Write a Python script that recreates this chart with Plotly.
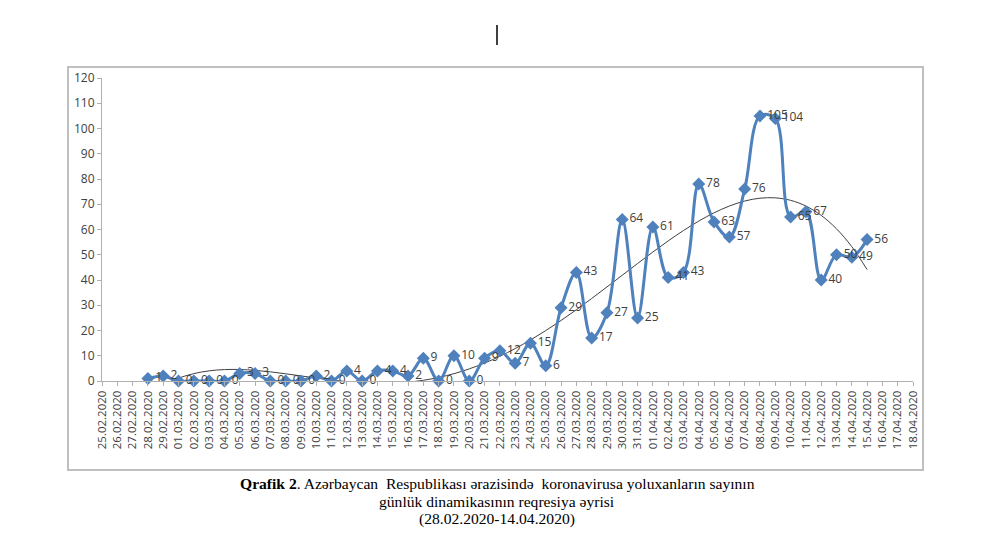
import numpy as np
import plotly.graph_objects as go

# category labels on the x axis
dates = ["25.02.2020", "26.02.2020", "27.02.2020", "28.02.2020", "29.02.2020"] + \
        [f"{d:02d}.03.2020" for d in range(1, 32)] + \
        [f"{d:02d}.04.2020" for d in range(1, 19)]

# daily new cases 28.02.2020 .. 15.04.2020
cases = [1, 2, 0, 0, 0, 0, 3, 3, 0, 0, 0, 2, 0, 4, 0, 4, 4, 2, 9, 0, 10, 0,
         9, 12, 7, 15, 6, 29, 43, 17, 27, 64, 25, 61, 41, 43, 78, 63, 57, 76,
         105, 104, 65, 67, 40, 50, 49, 56]
first_date = "28.02.2020"
trend_order = 4

start = dates.index(first_date)
x_cat = dates[start:start + len(cases)]

# polynomial regression trend line of the series (as in the spreadsheet chart)
idx = np.arange(len(cases))
poly = np.polynomial.Polynomial.fit(idx, cases, trend_order)
trend = poly(idx)

BLUE = "#4F81BD"
GRAY = "#404040"

fig = go.Figure()
fig.add_trace(go.Scatter(
    x=x_cat, y=trend, mode="lines", line=dict(color=GRAY, width=1, shape="spline"),
    hoverinfo="skip", showlegend=False))
fig.add_trace(go.Scatter(
    x=x_cat, y=cases, mode="lines+markers+text",
    line=dict(color=BLUE, width=3, shape="spline"),
    marker=dict(symbol="diamond", size=10, color=BLUE),
    text=[str(v) for v in cases], textposition="middle right",
    textfont=dict(family="Open Sans", size=12, color=GRAY),
    cliponaxis=False, showlegend=False))

fig.update_xaxes(
    type="category", categoryorder="array", categoryarray=dates,
    tickmode="array", tickvals=dates, ticktext=dates,
    range=[0, len(dates) - 1], tickangle=-90,
    showline=True, linecolor="#B0B0B0", linewidth=1,
    ticks="outside", ticklen=4, tickcolor="#B0B0B0",
    showgrid=False, zeroline=False,
    tickfont=dict(family="Open Sans", size=11.5, color=GRAY))
fig.update_yaxes(
    range=[0, 120], tickmode="linear", dtick=10, tick0=0,
    showline=True, linecolor="#B0B0B0", linewidth=1,
    ticks="outside", ticklen=4, tickcolor="#B0B0B0",
    showgrid=False, zeroline=False,
    tickfont=dict(family="Open Sans", size=12, color=GRAY))

L, R, T, B = 102, 913, 78, 381
W, H = R - L, B - T


def px(xp):
    return (xp - L) / W


def py(yp):
    return (B - yp) / H


shapes = [
    dict(type="rect", xref="paper", yref="paper",
         x0=px(68), x1=px(923), y0=py(470), y1=py(67),
         line=dict(color="#BFBFBF", width=2), layer="below"),
    dict(type="line", xref="paper", yref="paper",
         x0=px(497), x1=px(497), y0=py(25), y1=py(45),
         line=dict(color="black", width=1.5)),
]

serif = "Liberation Serif"
cap_font = dict(family=serif, size=15.6, color="black")
annotations = [
    dict(xref="paper", yref="paper", x=px(497), y=py(483), xanchor="center", yanchor="middle",
         showarrow=False, font=cap_font,
         text="<b>Qrafik 2</b>. Azərbaycan  Respublikası ərazisində  koronavirusa yoluxanların sayının"),
    dict(xref="paper", yref="paper", x=px(497), y=py(501), xanchor="center", yanchor="middle",
         showarrow=False, font=cap_font,
         text="günlük dinamikasının reqresiya əyrisi"),
    dict(xref="paper", yref="paper", x=px(497), y=py(519), xanchor="center", yanchor="middle",
         showarrow=False, font=cap_font,
         text="(28.02.2020-14.04.2020)"),
]

fig.update_layout(
    width=1000, height=536, autosize=False,
    margin=dict(l=L, r=1000 - R, t=T, b=536 - B),
    paper_bgcolor="white", plot_bgcolor="white",
    shapes=shapes, annotations=annotations, showlegend=False)

fig.write_html("out.html", config={"displayModeBar": False},
               post_script="document.body.style.margin='0';")
